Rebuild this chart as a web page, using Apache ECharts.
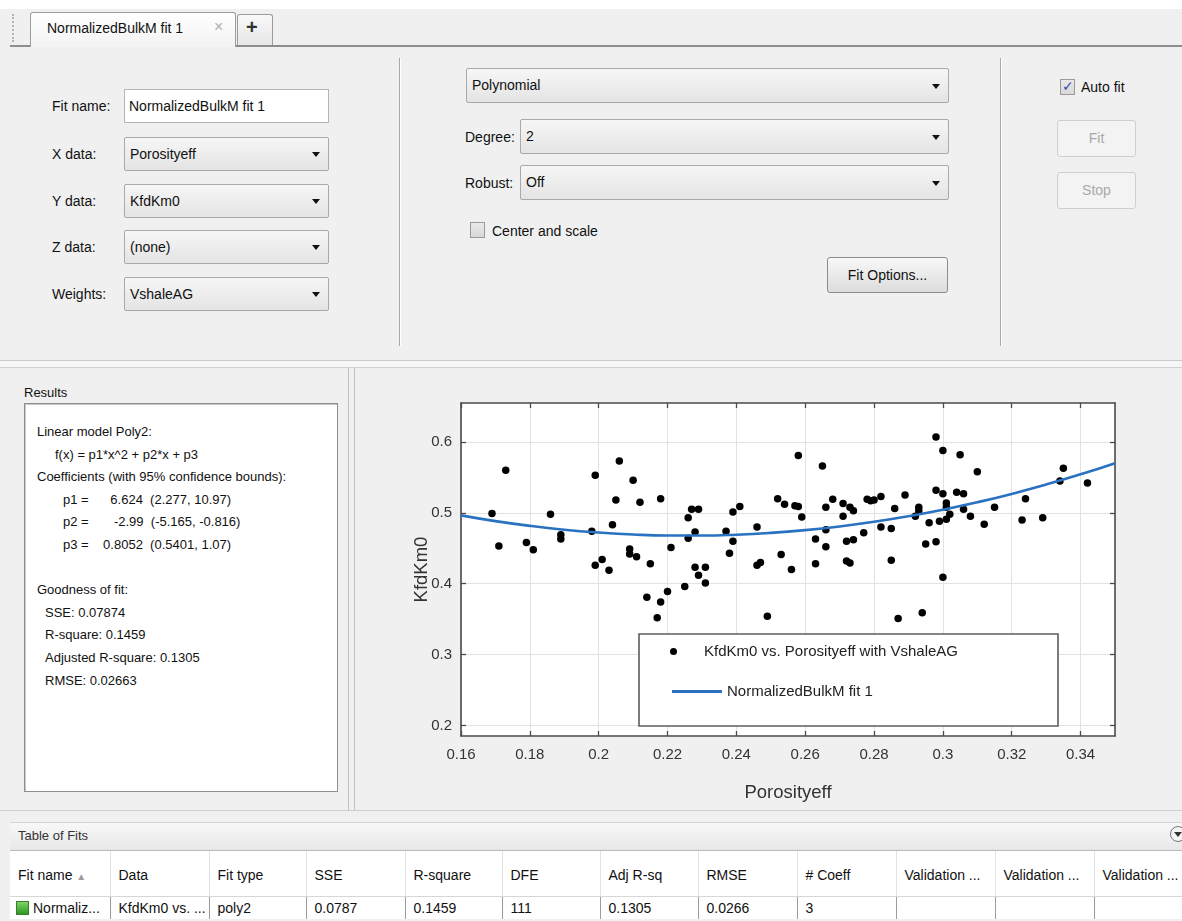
<!DOCTYPE html>
<html>
<head>
<meta charset="utf-8">
<script src="https://cdn.jsdelivr.net/npm/echarts@6/dist/echarts.min.js"></script>
<style>
  html, body { margin:0; padding:0; }
  body { width:1182px; height:921px; overflow:hidden; position:relative; background:#f0f0f0;
         font-family:"Liberation Sans", Arial, sans-serif; font-size:14px; color:#111; }
  .abs { position:absolute; box-sizing:border-box; }
  .lbl { position:absolute; white-space:nowrap; line-height:18px; }
  .combo { position:absolute; box-sizing:border-box; border:1px solid #a9a9a9; border-radius:2px;
           background:linear-gradient(#f6f6f6,#e4e4e4); padding-left:5px; white-space:nowrap; }
  .combo .arr { position:absolute; right:8px; top:50%; margin-top:-2px; width:0; height:0;
           border-left:4px solid transparent; border-right:4px solid transparent; border-top:5px solid #111; }
  .btn { position:absolute; box-sizing:border-box; border:1px solid #8c8c8c; border-radius:3px;
         background:linear-gradient(#f8f8f8,#dcdcdc); text-align:center; }
  .btn.dis { border-color:#cfcfcf; background:#f3f3f3; color:#a8a8a8; }
  .chk { position:absolute; box-sizing:border-box; width:15px; height:16px; border:1px solid #9a9a9a;
         background:linear-gradient(#e9e9e9,#d8d8d8); }
  .vsep { position:absolute; width:1px; background:#a8a8a8; border-right:1px solid #fff; }
  .results-text { position:absolute; font-size:13px; white-space:pre; line-height:22.6px; }
  table.fits { position:absolute; left:10px; top:851px; border-collapse:collapse; table-layout:fixed; background:#fff; }
  table.fits td { padding:0 0 0 8px; white-space:nowrap; overflow:hidden; font-size:14px; }
  table.fits tr.h td { height:42px; padding-top:3px; border-right:1px solid #e2e2e2; border-bottom:1px solid #d6d6d6; }
  table.fits tr.d td { height:22px; border-left:1px solid #9c9c9c; }
</style>
</head>
<body>
<!-- tab strip -->
<div class="abs" style="left:0;top:0;width:1182px;height:9px;background:#fff;"></div>
<div class="abs" style="left:12px;top:14px;width:3px;height:28px;border-left:2px dotted #b5b5b5;"></div>
<div class="abs" style="left:10px;top:45px;width:1172px;height:2px;background:#8d8d8d;"></div>
<div class="abs" style="left:30px;top:12px;width:206px;height:35px;border:1px solid #9c9c9c;border-bottom:none;border-radius:3px 3px 0 0;background:linear-gradient(#ffffff,#f3f3f3);"></div>
<div class="lbl" style="left:47px;top:19px;font-size:14px;">NormalizedBulkM fit 1</div>
<div class="lbl" style="left:214px;top:18px;font-size:16px;color:#b0b0b0;">×</div>
<div class="abs" style="left:237px;top:14px;width:36px;height:31px;border:1px solid #9c9c9c;border-bottom:none;border-radius:3px 3px 0 0;background:linear-gradient(#f9f9f9,#e6e6e6);"></div>
<div class="lbl" style="left:246px;top:18px;font-size:20px;font-weight:bold;color:#333;">+</div>

<!-- input block -->
<div id="inputs"></div>
<div class="vsep" style="left:399px;top:58px;height:288px;"></div>
<div class="vsep" style="left:1000px;top:58px;height:288px;"></div>

<!-- splitter -->
<div class="abs" style="left:0;top:360px;width:1182px;height:1px;background:#c9c9c9;"></div>
<div class="abs" style="left:0;top:361px;width:1182px;height:6px;background:#f7f7f7;"></div>
<div class="abs" style="left:0;top:367px;width:1182px;height:1px;background:#d0d0d0;"></div>

<!-- results -->
<div class="abs" style="left:348px;top:368px;width:1px;height:442px;background:#c2c2c2;"></div>
<div class="abs" style="left:354px;top:368px;width:1px;height:442px;background:#c2c2c2;"></div>
<div class="lbl" style="left:24px;top:384px;font-size:13px;">Results</div>
<div class="abs" style="left:24px;top:403px;width:314px;height:389px;background:#fff;border:1px solid #8e8e8e;box-shadow:inset 1px 1px 0 #c9c9c9;"></div>
<div id="results"></div>

<!-- chart -->
<div id="chart" class="abs" style="left:356px;top:368px;width:826px;height:444px;"></div>

<!-- table of fits -->
<div class="abs" style="left:0;top:810px;width:1182px;height:1px;background:#cfcfcf;"></div>
<div class="abs" style="left:10px;top:822px;width:1172px;height:29px;background:linear-gradient(#f8f8f8,#e7e7e7);border-top:1px solid #d4d4d4;border-bottom:1px solid #b9b9b9;"></div>
<div class="lbl" style="left:18px;top:827px;font-size:13px;color:#333;">Table of Fits</div>
<div class="abs" style="left:1170px;top:826px;width:16px;height:16px;border:1px solid #777;border-radius:50%;background:#f4f4f4;"></div>
<div class="abs" style="left:1174px;top:832px;width:0;height:0;border-left:4px solid transparent;border-right:4px solid transparent;border-top:5px solid #333;"></div>
<table class="fits" id="fits"></table>

<script>
// ---------------- data ----------------
const porosityX = [
  0.169,0.171,0.173,0.179,0.181,0.186,0.189,0.189,0.198,0.199,0.199,0.201,0.203,0.204,0.205,0.206,
  0.209,0.209,0.210,0.211,0.212,0.215,0.214,0.218,0.217,0.218,0.221,0.220,0.225,0.226,0.226,0.227,
  0.229,0.228,0.228,0.229,0.231,0.231,
  0.237,0.238,0.239,0.239,0.241,0.246,0.246,0.247,0.249,0.252,0.253,0.254,0.256,0.257,0.258,0.258,
  0.259,0.263,0.263,0.265,0.266,0.266,0.266,0.268,0.271,0.271,0.272,0.272,0.273,0.273,0.274,0.274,
  0.277,0.278,0.279,0.280,0.282,0.282,0.285,0.285,0.286,0.287,0.289,0.292,0.293,0.293,0.294,0.295,
  0.296,0.298,0.298,0.298,0.299,0.300,0.300,0.300,0.301,0.301,
  0.301,0.302,0.304,0.305,0.306,0.306,0.308,0.310,0.312,0.315,0.323,0.324,0.329,0.334,0.335,0.342
];
const kfdKm0Y = [
  0.499,0.453,0.560,0.458,0.448,0.498,0.469,0.463,0.474,0.553,0.426,0.434,0.419,0.483,0.518,0.573,
  0.449,0.442,0.546,0.438,0.515,0.428,0.381,0.374,0.352,0.520,0.451,0.389,0.396,0.493,0.464,0.505,
  0.505,0.473,0.423,0.412,0.423,0.401,
  0.474,0.443,0.460,0.501,0.509,0.480,0.426,0.430,0.354,0.520,0.441,0.512,0.420,0.510,0.509,0.581,
  0.494,0.463,0.428,0.566,0.508,0.476,0.452,0.519,0.513,0.495,0.460,0.432,0.429,0.508,0.503,0.462,
  0.472,0.519,0.517,0.518,0.523,0.480,0.478,0.433,0.506,0.351,0.525,0.495,0.508,0.503,0.359,0.456,
  0.486,0.607,0.532,0.459,0.488,0.409,0.588,0.527,0.514,0.491,
  0.508,0.498,0.529,0.582,0.527,0.505,0.495,0.558,0.484,0.508,0.490,0.520,0.493,0.545,0.563,0.542
];
const fitX = [0.16,0.17,0.18,0.19,0.20,0.21,0.22,0.23,0.24,0.25,0.26,0.27,0.28,0.29,0.30,0.31,0.32,0.33,0.34,0.35];
const fitY = [0.4964,0.4883,0.4816,0.4762,0.4722,0.4694,0.4680,0.4679,0.4691,0.4717,0.4756,0.4808,0.4873,0.4952,0.5044,0.5149,0.5267,0.5399,0.5543,0.5701];
const xTickValues = [0.16,0.18,0.2,0.22,0.24,0.26,0.28,0.3,0.32,0.34];
const yTickValues = [0.2,0.3,0.4,0.5,0.6];
const scatterName = 'KfdKm0 vs. Porosityeff with VshaleAG';
const fitName = 'NormalizedBulkM fit 1';

const resultLines = [
  ['Linear model Poly2:', 37],
  ['f(x) = p1*x^2 + p2*x + p3', 55],
  ['Coefficients (with 95% confidence bounds):', 37],
  ['p1 =      6.624  (2.277, 10.97)', 63],
  ['p2 =       -2.99  (-5.165, -0.816)', 63],
  ['p3 =    0.8052  (0.5401, 1.07)', 63],
  ['', 37],
  ['Goodness of fit:', 37],
  ['SSE: 0.07874', 45],
  ['R-square: 0.1459', 45],
  ['Adjusted R-square: 0.1305', 45],
  ['RMSE: 0.02663', 45]
];
const tableHeaders = ['Fit name', 'Data', 'Fit type', 'SSE', 'R-square', 'DFE', 'Adj R-sq', 'RMSE', '# Coeff', 'Validation ...', 'Validation ...', 'Validation ...'];
const tableRow = ['Normaliz...', 'KfdKm0 vs. ...', 'poly2', '0.0787', '0.1459', '111', '0.1305', '0.0266', '3', '', '', ''];
const colWidths = [100, 99, 97, 99, 97, 98, 98, 99, 99, 99, 99, 88];

// ---------------- UI ----------------
(function buildUI(){
  const inputs = document.getElementById('inputs');
  let h = '';
  const lab = (t, x, cy, extra) => `<div class="lbl" style="left:${x}px;top:${cy-9}px;${extra||''}">${t}</div>`;
  const combo = (t, x, y, w, hh) => `<div class="combo" style="left:${x}px;top:${y}px;width:${w}px;height:${hh}px;line-height:${hh-2}px;">${t}<div class="arr"></div></div>`;
  h += lab('Fit name:', 52, 106);
  h += `<div class="abs" style="left:124px;top:89px;width:205px;height:34px;background:#fff;border:1px solid #b5b5b5;padding-left:4px;line-height:32px;white-space:nowrap;">NormalizedBulkM fit 1</div>`;
  h += lab('X data:', 52, 154) + combo('Porosityeff', 124, 137, 205, 34);
  h += lab('Y data:', 52, 201) + combo('KfdKm0', 124, 184, 205, 34);
  h += lab('Z data:', 52, 247) + combo('(none)', 124, 230, 205, 34);
  h += lab('Weights:', 52, 294) + combo('VshaleAG', 124, 277, 205, 34);
  h += combo('Polynomial', 466, 68, 483, 35);
  h += lab('Degree:', 465, 137) + combo('2', 520, 119, 429, 35);
  h += lab('Robust:', 465, 183) + combo('Off', 520, 165, 429, 35);
  h += `<div class="chk" style="left:470px;top:222px;"></div>` + lab('Center and scale', 492, 231);
  h += `<div class="btn" style="left:827px;top:257px;width:121px;height:36px;line-height:34px;">Fit Options...</div>`;
  h += `<div class="chk" style="left:1060px;top:79px;"></div><div class="lbl" style="left:1062px;top:77px;color:#3050b0;font-size:14px;">✓</div>` + lab('Auto fit', 1081, 87);
  h += `<div class="btn dis" style="left:1057px;top:120px;width:79px;height:37px;line-height:35px;">Fit</div>`;
  h += `<div class="btn dis" style="left:1057px;top:172px;width:79px;height:37px;line-height:35px;">Stop</div>`;
  inputs.innerHTML = h;

  const res = document.getElementById('results');
  let r = '';
  resultLines.forEach((ln, i) => {
    if (ln[0]) r += `<div class="results-text" style="left:${ln[1]}px;top:${421 + i*22.6}px;">${ln[0]}</div>`;
  });
  res.innerHTML = r;

  const t = document.getElementById('fits');
  let cg = '<colgroup>' + colWidths.map(w => `<col style="width:${w}px">`).join('') + '</colgroup>';
  let hr = '<tr class="h">' + tableHeaders.map((s, i) => `<td>${s}${i===0?' <span style="color:#9a9a9a;font-size:10px;">▲</span>':''}</td>`).join('') + '</tr>';
  let dr = '<tr class="d">' + tableRow.map((s, i) => i===0
      ? `<td style="padding-left:6px;border-left:none;"><span style="display:inline-block;width:11px;height:12px;vertical-align:-2px;margin-right:4px;background:linear-gradient(#7fd36a,#2f9a22);border:1px solid #3b7d2c;"></span>${s}</td>`
      : `<td>${s}</td>`).join('') + '</tr>';
  t.innerHTML = cg + hr + dr;
  t.style.width = colWidths.reduce((a,b)=>a+b,0) + 'px';
})();

// ---------------- chart ----------------
const chart = echarts.init(document.getElementById('chart'), null, { renderer: 'canvas' });
const axisColor = '#4a4a4a';
const labelColor = '#333333';
const gridColor = '#e2e2e2';
const fitColor = '#2a72c1';
const font = '"Liberation Sans", Arial, sans-serif';
const xMin = 0.16, xMax = 0.35, yMin = 0.185, yMax = 0.655;

chart.setOption({
  animation: false,
  backgroundColor: 'transparent',
  textStyle: { fontFamily: font },
  grid: { left: 105, top: 35, right: 67, bottom: 76, show: true, backgroundColor: '#ffffff', borderWidth: 0, containLabel: false, outerBoundsMode: 'none' },
  xAxis: [
    { type: 'value', position: 'bottom', min: xMin, max: xMax,
      name: 'Porosityeff', nameLocation: 'middle', nameGap: 47, nameMoveOverlap: false,
      nameTextStyle: { fontSize: 18.5, color: labelColor, fontFamily: font },
      axisLine: { show: true, onZero: false, lineStyle: { color: axisColor, width: 1.6 } },
      axisTick: { show: true, inside: true, length: 5, customValues: xTickValues, lineStyle: { color: axisColor, width: 1.3 } },
      axisLabel: { show: true, customValues: xTickValues, fontSize: 15, color: labelColor, margin: 11, fontFamily: font },
      splitLine: { show: true, lineStyle: { color: gridColor, width: 1 } } },
    { type: 'value', position: 'top', min: xMin, max: xMax,
      axisLine: { show: true, onZero: false, lineStyle: { color: axisColor, width: 1.6 } },
      axisTick: { show: true, inside: true, length: 5, customValues: xTickValues, lineStyle: { color: axisColor, width: 1.3 } },
      axisLabel: { show: false }, splitLine: { show: false } }
  ],
  yAxis: [
    { type: 'value', position: 'left', min: yMin, max: yMax,
      name: 'KfdKm0', nameLocation: 'middle', nameGap: 30, nameMoveOverlap: false,
      nameTextStyle: { fontSize: 18.5, color: labelColor, fontFamily: font },
      axisLine: { show: true, onZero: false, lineStyle: { color: axisColor, width: 1.6 } },
      axisTick: { show: true, inside: true, length: 5, customValues: yTickValues, lineStyle: { color: axisColor, width: 1.3 } },
      axisLabel: { show: true, customValues: yTickValues, fontSize: 15, color: labelColor, margin: 9, fontFamily: font },
      splitLine: { show: true, lineStyle: { color: gridColor, width: 1 } } },
    { type: 'value', position: 'right', min: yMin, max: yMax,
      axisLine: { show: true, onZero: false, lineStyle: { color: axisColor, width: 1.6 } },
      axisTick: { show: true, inside: true, length: 5, customValues: yTickValues, lineStyle: { color: axisColor, width: 1.3 } },
      axisLabel: { show: false }, splitLine: { show: false } }
  ],
  graphic: [
    { type: 'rect', z: 50, shape: { x: 283, y: 266, width: 419, height: 92 },
      style: { fill: '#ffffff', stroke: '#5c5c5c', lineWidth: 1.6 } }
  ],
  legend: [
    { z: 100, left: 314, top: 276, padding: 0, orient: 'vertical', selectedMode: false,
      itemWidth: 7, itemHeight: 7,
      data: [{ name: scatterName, icon: 'circle', itemStyle: { color: '#000', opacity: 1 } }],
      textStyle: { fontSize: 15, color: '#222', fontFamily: font, padding: [0, 0, 0, 22] } },
    { z: 100, left: 316, top: 316, padding: 0, orient: 'vertical', selectedMode: false,
      itemWidth: 50, itemHeight: 3,
      data: [{ name: fitName, icon: 'rect', itemStyle: { color: fitColor } }],
      textStyle: { fontSize: 15, color: '#222', fontFamily: font } }
  ],
  series: [
    { name: scatterName, type: 'scatter', xAxisIndex: 0, yAxisIndex: 0,
      symbol: 'circle', symbolSize: 7.5,
      itemStyle: { color: '#000000', opacity: 1 },
      data: porosityX.map((x, i) => [x, kfdKm0Y[i]]) },
    { name: fitName, type: 'line', xAxisIndex: 0, yAxisIndex: 0,
      symbol: 'none', smooth: true, z: 3,
      lineStyle: { color: fitColor, width: 2.6 },
      itemStyle: { color: fitColor },
      data: fitX.map((x, i) => [x, fitY[i]]) }
  ]
});
</script>
</body>
</html>
